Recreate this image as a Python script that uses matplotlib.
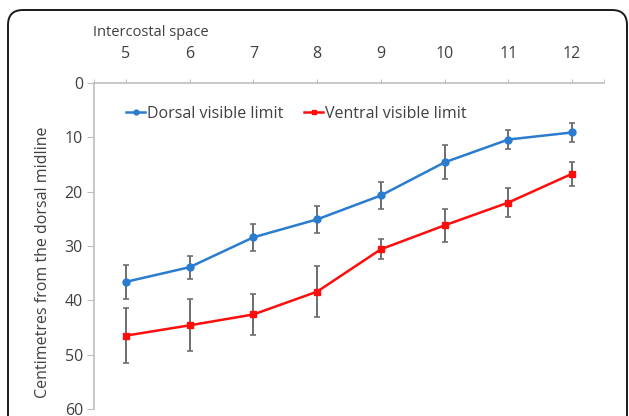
import numpy as np
import matplotlib
matplotlib.use('Agg')
import matplotlib.pyplot as plt
from matplotlib.patches import FancyBboxPatch
from matplotlib.lines import Line2D

# dati
spazi = [5, 6, 7, 8, 9, 10, 11, 12]
dorsale = [36.6, 33.9, 28.4, 25.1, 20.7, 14.6, 10.4, 9.1]
dorsale_err = [3.1, 2.1, 2.5, 2.5, 2.5, 3.1, 1.8, 1.7]
ventrale = [46.5, 44.6, 42.6, 38.4, 30.6, 26.2, 22.0, 16.7]
ventrale_err = [5.0, 4.8, 3.7, 4.7, 1.8, 3.0, 2.6, 2.2]
y_ticks = [0, 10, 20, 30, 40, 50, 60]

plt.rcParams['font.family'] = ['Open Sans', 'DejaVu Sans']
grigio_testo = '#404040'
grigio_assi = '#bfbfbf'
blu = '#2a7ccf'
rosso = '#ff0d0d'

fig = plt.figure(figsize=(6.29, 4.16), dpi=100)

# cornice arrotondata
cornice = FancyBboxPatch((0.08, -0.5), 6.19, 4.56, boxstyle='round,pad=0,rounding_size=0.15',
                         transform=fig.dpi_scale_trans, fill=False, lw=1.4, ec='#1a1a1a')
fig.patches.append(cornice)

ax = fig.add_axes([94/629, 1-409/416, (604-94)/629, (409-83)/416])
ax.errorbar(spazi, dorsale, yerr=dorsale_err, color=blu, lw=1.8, marker='o', ms=5,
            ecolor='#6e6e6e', elinewidth=1.4, capsize=2, capthick=1.2)
ax.errorbar(spazi, ventrale, yerr=ventrale_err, color=rosso, lw=1.8, marker='s', ms=5,
            ecolor='#6e6e6e', elinewidth=1.4, capsize=2, capthick=1.2)

ax.set_xlim(4.5, 12.5)
ax.set_ylim(60, 0)
ax.xaxis.tick_top()
ax.set_xticks(spazi)
ax.set_xticks([4.5, 12.5], minor=True)
ax.set_yticks(y_ticks)
ax.tick_params(axis='x', which='both', length=3, color=grigio_assi, labelsize=11.5,
               labelcolor=grigio_testo, pad=12)
ax.tick_params(axis='y', length=5, color=grigio_assi, labelsize=11.5, labelcolor=grigio_testo, pad=3)
for s in ['right', 'bottom']:
    ax.spines[s].set_visible(False)
for s in ['left', 'top']:
    ax.spines[s].set_color(grigio_assi)
    ax.spines[s].set_linewidth(1.2)

fig.text(93/629, 1-33/416, 'Intercostal space', fontsize=10.5, color=grigio_testo, va='center', ha='left')
fig.text(43/629, 1-262/416, 'Centimetres from the dorsal midline', fontsize=11.5, color=grigio_testo,
         rotation=90, va='center', ha='center')

maniglie = [Line2D([], [], color=blu, lw=1.8, marker='o', ms=3.5),
            Line2D([], [], color=rosso, lw=1.8, marker='s', ms=3.5)]
leg = ax.legend(maniglie, ['Dorsal visible limit', 'Ventral visible limit'], loc='upper left',
                bbox_to_anchor=(0.035, 0.975), ncol=2, frameon=False, fontsize=11.5,
                handlelength=1.2, handletextpad=0.1, columnspacing=1.3)
for t in leg.get_texts():
    t.set_color(grigio_testo)

fig.savefig('out.png', dpi=100)
